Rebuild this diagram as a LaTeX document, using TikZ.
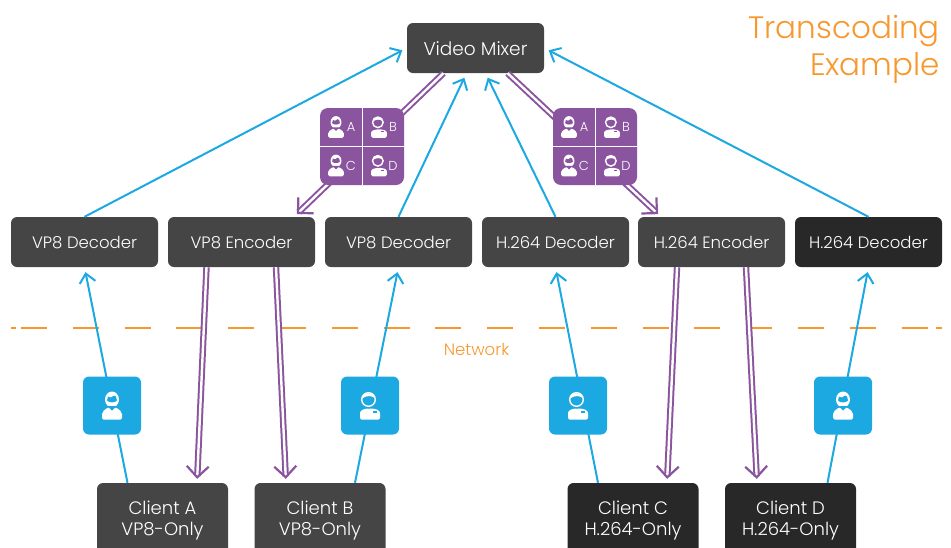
\documentclass[tikz,border=0pt]{standalone}
\usepackage{fontspec}
\setmainfont{Poppins Light}
\usetikzlibrary{arrows.meta}
\definecolor{boxgray}{HTML}{444544}
\definecolor{boxdark}{HTML}{282828}
\definecolor{webblue}{HTML}{1CA8E1}
\definecolor{webpurple}{HTML}{8A549E}
\definecolor{weborange}{HTML}{F7982F}
\tikzset{
	boxnode/.style={fill=boxgray,text=white,rounded corners=6pt,minimum width=147pt,minimum height=50pt,inner sep=0pt,font=\fontsize{16.5}{21}\selectfont,text height=13pt,text depth=0pt},
	clientnode/.style={fill=boxgray,text=white,rounded corners=6pt,minimum width=131pt,minimum height=75pt,inner sep=0pt,font=\fontsize{18}{21}\selectfont,align=center},
	recvline/.style={draw=webblue,line width=2pt,shorten >=5pt,-{Straight Barb[length=9pt,width=16pt]}},
	sendline/.style={draw=webpurple,line width=2pt,double=white,double distance=2.4pt,shorten >=4pt,-{Straight Barb[length=11pt,width=22pt,line width=2.2pt]}},
	netline/.style={draw=weborange,line width=2pt},
	usernode/.style={fill=webblue,rounded corners=6pt,minimum size=58pt,inner sep=0pt},
	gridnode/.style={fill=webpurple,rounded corners=8pt,minimum width=84pt,minimum height=77pt,inner sep=0pt},
	gridlabel/.style={text=white,inner sep=0pt,font=\fontsize{13}{15}\selectfont},
	pics/womanicon/.style={code={
		\fill[white,rounded corners=1.5pt] (-10,14) -- (-10,10) .. controls (-10,6) and (-7,4) .. (-4,2) -- (4,2) .. controls (7,4) and (10,6) .. (10,10) -- (10,14) -- cycle;
		\fill[white] (0,-6) ellipse (7 and 8);
		\fill[#1] (-4.5,0.5) -- (4.5,0.5) -- (0,5) -- cycle;
		\fill[#1] (-5,-5) -- (-4,-9) -- (-1,-8) -- (2,-10) -- (4,-9) -- (5,-5) .. controls (3,-2.5) and (-3,-2.5) .. (-5,-5) -- cycle;
	}},
	pics/manicon/.style={code={
		\fill[white,rounded corners=1.5pt] (-10,14) -- (-10,9) .. controls (-10,5) and (-6,3) .. (0,3) .. controls (6,3) and (10,5) .. (10,9) -- (10,14) -- cycle;
		\fill[#1] (2.5,5.5) rectangle (6.5,7);
		\fill[#1] (-1.5,-6) circle (8.8);
		\draw[white,line width=1.4pt] (-1.5,-6) circle (6.8);
		\fill[white] (-8.2,-7) .. controls (-7,-14) and (4,-14) .. (5.2,-7) .. controls (2,-10) and (-3,-10.5) .. (-8.2,-7) -- cycle;
	}},
}
\begin{document}
\begin{tikzpicture}[x=1pt,y=-1pt]
	\useasboundingbox (0,0) rectangle (951,547);
	\clip (0,0) rectangle (951,547);
	\draw[netline] (11,328) -- (16,328);
	\draw[netline] (936,328) -- (942,328);
	\draw[netline,dash pattern=on 26pt off 25.8pt] (21,328) -- (930,328);
	\node[text=weborange,inner sep=0pt,font=\fontsize{16.5}{18}\selectfont] (netlabel) at (476.5,349) {Network};
	\node[text=weborange,inner sep=0pt,align=right,anchor=east,font=\fontsize{31}{37}\selectfont] (titlelabel) at (940,49.5) {Transcoding\\Example};
	\node[boxnode,minimum width=137pt,text height=14pt,font=\fontsize{18.5}{21}\selectfont] (mixer) at (475.5,48) {Video Mixer};
	\foreach \nm/\cx/\txt in {deca/84.5/VP8 Decoder,enca/241.5/VP8 Encoder,decb/398.5/VP8 Decoder,decc/555.5/H.264 Decoder,encb/711.5/H.264 Encoder}{
		\node[boxnode] (\nm) at (\cx,242) {\txt};
	}
	\node[boxnode,fill=boxdark] (decd) at (868.5,242) {H.264 Decoder};
	\node[clientnode] (clienta) at (162.5,520.5) {Client A\\VP8-Only};
	\node[clientnode] (clientb) at (320,520.5) {Client B\\VP8-Only};
	\node[clientnode,fill=boxdark] (clientc) at (633,520.5) {Client C\\H.264-Only};
	\node[clientnode,fill=boxdark] (clientd) at (790.5,520.5) {Client D\\H.264-Only};
	\draw[recvline] (deca.north) -- (mixer.west);
	\draw[recvline] (decb.north) -- ([xshift=-9pt]mixer.south);
	\draw[recvline] (decc.north) -- ([xshift=10pt]mixer.south);
	\draw[recvline] (decd.north) -- (mixer.east);
	\draw[recvline] ([xshift=-35pt]clienta.north) -- (deca.south);
	\draw[recvline] ([xshift=35pt]clientb.north) -- (decb.south);
	\draw[recvline] ([xshift=-35pt]clientc.north) -- (decc.south);
	\draw[recvline] ([xshift=37pt]clientd.north) -- (decd.south);
	\draw[sendline] ([xshift=-32pt]mixer.south) -- ([xshift=52.5pt]enca.north);
	\draw[sendline] ([xshift=32pt]mixer.south) -- ([xshift=-50.5pt]encb.north);
	\draw[sendline] ([xshift=-35pt]enca.south) -- ([xshift=34.5pt]clienta.north);
	\draw[sendline] ([xshift=34.5pt]enca.south) -- ([xshift=-34pt]clientb.north);
	\draw[sendline] ([xshift=-34.5pt]encb.south) -- ([xshift=34pt]clientc.north);
	\draw[sendline] ([xshift=34.5pt]encb.south) -- ([xshift=-33.5pt]clientd.north);
	\foreach \nm/\cx/\kind in {usera/112/womanicon,userb/370/manicon,userc/578/manicon,userd/843/womanicon}{
		\node[usernode] (\nm) at (\cx,405.5) {};
		\pic at (\nm) {\kind=webblue};
	}
	\foreach \nm/\cx in {grida/362,gridb/595}{
		\node[gridnode] (\nm) at (\cx,146.5) {};
		\draw[white,line width=1pt] (\nm.north) -- (\nm.south);
		\draw[white,line width=1pt] (\nm.west) -- (\nm.east);
		\pic[scale=0.78] at ([xshift=-26pt,yshift=19.5pt]\nm.center) {womanicon=webpurple};
		\pic[scale=0.78] at ([xshift=17pt,yshift=19.5pt]\nm.center) {manicon=webpurple};
		\pic[scale=0.78] at ([xshift=-26pt,yshift=-19pt]\nm.center) {womanicon=webpurple};
		\pic[scale=0.78] at ([xshift=17pt,yshift=-19pt]\nm.center) {manicon=webpurple};
		\node[gridlabel] (\nm-a) at ([xshift=-11pt,yshift=19.5pt]\nm.center) {A};
		\node[gridlabel] (\nm-b) at ([xshift=31pt,yshift=19.5pt]\nm.center) {B};
		\node[gridlabel] (\nm-c) at ([xshift=-11pt,yshift=-19pt]\nm.center) {C};
		\node[gridlabel] (\nm-d) at ([xshift=31pt,yshift=-19pt]\nm.center) {D};
	}
\end{tikzpicture}
\end{document}
